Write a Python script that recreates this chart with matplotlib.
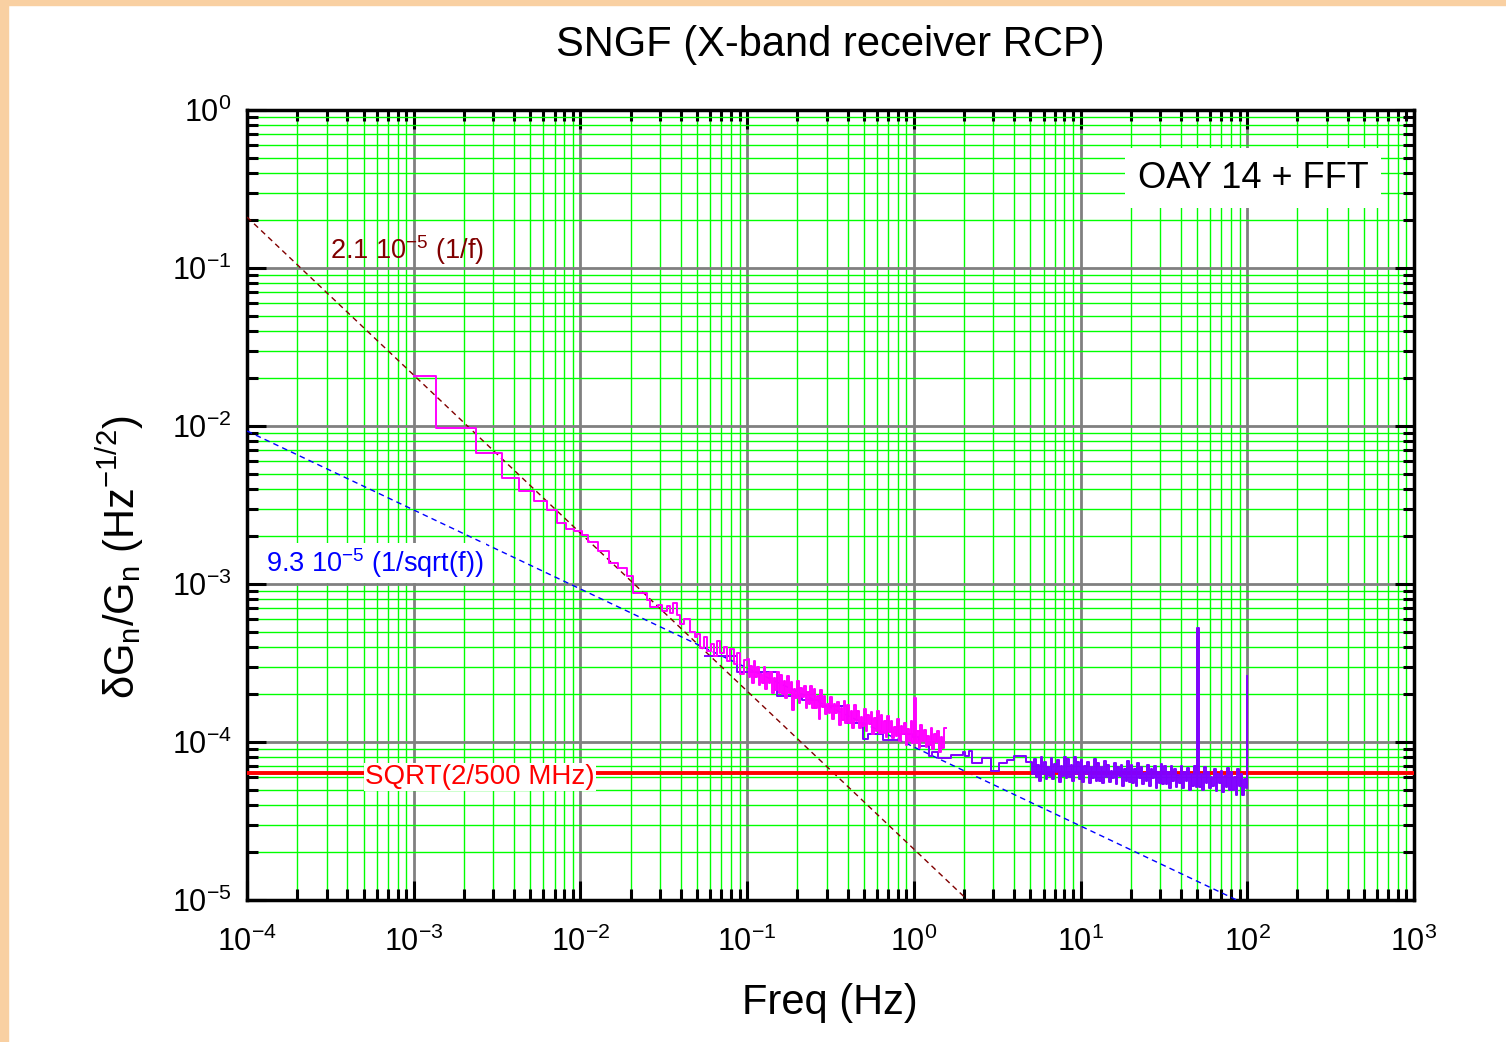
import numpy as np
import matplotlib
matplotlib.use("Agg")
import matplotlib.pyplot as plt
from matplotlib.ticker import LogLocator, LogFormatterSciNotation, NullFormatter
from matplotlib.patches import Rectangle

plt.rcParams['font.family'] = ['Liberation Sans', 'DejaVu Sans']
plt.rcParams['mathtext.fontset'] = 'custom'
plt.rcParams['mathtext.rm'] = 'Liberation Sans'
plt.rcParams['mathtext.it'] = 'Liberation Sans:italic'
plt.rcParams['mathtext.bf'] = 'Liberation Sans:bold'
plt.rcParams['mathtext.sf'] = 'Liberation Sans'

# ---------------- data ----------------
# OAY (magenta) spectrum: frequency (Hz) and value (x1e-6)
mag_freq = [1.00e-3, 1.36e-3, 2.37e-3, 3.37e-3, 4.27e-3, 5.27e-3, 6.30e-3, 7.20e-3, 8.20e-3, 9.10e-3,
            1.02e-2, 1.11e-2, 1.28e-2, 1.48e-2, 1.68e-2, 1.90e-2, 2.06e-2, 2.51e-2, 2.61e-2, 2.90e-2,
            3.09e-2, 3.30e-2, 3.45e-2, 3.60e-2, 3.80e-2, 3.94e-2, 4.20e-2, 4.56e-2, 4.89e-2,
            0.0501, 0.0525, 0.0550, 0.0575, 0.0603, 0.0631, 0.0661, 0.0692, 0.0724, 0.0759,
            0.0794, 0.0832, 0.0871, 0.0912, 0.0955,
            0.1000, 0.1023, 0.1047, 0.1072, 0.1096, 0.1122, 0.1148, 0.1175, 0.1202, 0.1230,
            0.1259, 0.1288, 0.1318, 0.1349, 0.1380, 0.1413, 0.1445, 0.1479, 0.1514, 0.1549,
            0.1585, 0.1622, 0.1660, 0.1698, 0.1738, 0.1778, 0.1820, 0.1862, 0.1905, 0.1950,
            0.1995, 0.2042, 0.2089, 0.2138, 0.2188, 0.2239, 0.2291, 0.2344, 0.2399, 0.2455,
            0.2512, 0.2570, 0.2630, 0.2692, 0.2754, 0.2818, 0.2884, 0.2951, 0.3020, 0.3090,
            0.3162, 0.3236, 0.3311, 0.3388, 0.3467, 0.3548, 0.3631, 0.3715, 0.3802, 0.3890,
            0.3981, 0.4074, 0.4169, 0.4266, 0.4365, 0.4467, 0.4571, 0.4677, 0.4786, 0.4898,
            0.5012, 0.5129, 0.5248, 0.5370, 0.5495, 0.5623, 0.5754, 0.5888, 0.6026, 0.6166,
            0.6310, 0.6457, 0.6607, 0.6761, 0.6918, 0.7079, 0.7244, 0.7413, 0.7586, 0.7762,
            0.7943, 0.8128, 0.8318, 0.8511, 0.8710, 0.8913, 0.9120, 0.9333, 0.9550, 0.9772,
            1.000, 1.023, 1.047, 1.072, 1.096, 1.122, 1.148, 1.175, 1.202, 1.230,
            1.259, 1.288, 1.318, 1.349, 1.380, 1.413, 1.445, 1.479, 1.514, 1.550]
mag_val = [20700, 9700, 6750, 4690, 3880, 3350, 2950, 2440, 2220, 2150,
           2040, 1850, 1620, 1360, 1260, 1120, 880, 790, 720, 740,
           670, 730, 660, 760, 640, 560, 600, 500, 460,
           486, 396, 462, 377, 420, 348, 437, 366, 398, 324,
           385, 313, 368, 270, 330,
           336, 256, 304, 238, 326, 256, 298, 230, 269, 236,
           300, 218, 273, 238, 279, 203, 253, 212, 278, 204,
           266, 202, 242, 189, 261, 205, 240, 160, 217, 190,
           242, 176, 221, 193, 226, 164, 206, 173, 227, 165,
           215, 165, 196, 140, 212, 166, 195, 151, 175, 153,
           194, 140, 175, 152, 179, 129, 163, 137, 181, 132,
           171, 131, 157, 123, 171, 135, 158, 123, 145, 127,
           162, 118, 149, 130, 154, 112, 141, 118, 156, 114,
           148, 114, 136, 107, 147, 116, 136, 106, 124, 109,
           139, 101, 127, 112, 132, 96, 121, 102, 135, 98,
           190, 99, 118, 92, 129, 101, 119, 93, 109, 96,
           123, 90, 113, 100, 118, 86, 108, 92, 122, 122]

# FFT (purple) spectrum: frequency (Hz) and value (x1e-6)
pur_freq = [0.0559, 0.0869, 0.151, 0.213, 0.274, 0.397, 0.496, 0.53, 0.654, 0.826,
            0.98, 1.08, 1.2, 1.23, 1.29, 1.4, 1.68, 1.97, 2.03, 2.15,
            2.23, 2.57, 2.91, 3.25, 3.6, 4.0, 4.7, 5.1,
            5.248, 5.370, 5.495, 5.623, 5.754, 5.888, 6.026, 6.166, 6.310, 6.457,
            6.607, 6.761, 6.918, 7.079, 7.244, 7.413, 7.586, 7.762, 7.943, 8.128,
            8.318, 8.511, 8.710, 8.913, 9.120, 9.333, 9.550, 9.772,
            10.00, 10.23, 10.47, 10.72, 10.96, 11.22, 11.48, 11.75, 12.02, 12.30,
            12.59, 12.88, 13.18, 13.49, 13.80, 14.13, 14.45, 14.79, 15.14, 15.49,
            15.85, 16.22, 16.60, 16.98, 17.38, 17.78, 18.20, 18.62, 19.05, 19.50,
            19.95, 20.42, 20.89, 21.38, 21.88, 22.39, 22.91, 23.44, 23.99, 24.55,
            25.12, 25.70, 26.30, 26.92, 27.54, 28.18, 28.84, 29.51, 30.20, 30.90,
            31.62, 32.36, 33.11, 33.88, 34.67, 35.48, 36.31, 37.15, 38.02, 38.90,
            39.81, 40.74, 41.69, 42.66, 43.65, 44.67, 45.71, 46.77, 47.86, 48.98,
            50.12, 51.29, 52.48, 53.70, 54.95, 56.23, 57.54, 58.88, 60.26, 61.66,
            63.10, 64.57, 66.07, 67.61, 69.18, 70.79, 72.44, 74.13, 75.86, 77.62,
            79.43, 81.28, 83.18, 85.11, 87.10, 89.13, 91.20, 93.33, 95.50, 97.72,
            100.0]
pur_val = [350, 277, 195, 184, 169, 132, 105, 113, 103, 113,
           107, 95, 94, 81, 87, 79, 83, 87, 81, 88,
           74, 79, 66, 74, 77, 81, 75, 63,
           78, 60, 72, 57, 80, 63, 75, 58, 69, 61,
           79, 58, 73, 65, 77, 56, 71, 61, 80, 59,
           78, 60, 72, 57, 80, 63, 75, 58,
           77, 56, 71, 63, 75, 55, 69, 59, 78, 57,
           74, 57, 69, 55, 76, 60, 72, 56, 66, 59,
           74, 54, 69, 61, 72, 53, 67, 57, 76, 56,
           72, 55, 67, 53, 74, 59, 69, 54, 64, 57,
           72, 53, 67, 59, 70, 51, 65, 55, 73, 54,
           70, 54, 65, 51, 71, 57, 67, 52, 62, 55,
           70, 51, 65, 57, 68, 50, 63, 53, 71, 52,
           527, 52, 63, 50, 69, 55, 65, 51, 60, 53,
           67, 49, 63, 55, 66, 48, 61, 52, 68, 50,
           65, 50, 60, 46, 67, 53, 63, 46, 58, 51,
           262]

# model lines
coef_1f = 2.1e-5
coef_sqrt = 9.3e-5
f_1f = [1e-4, 2.1]
f_sqrt = [1e-4, 86.5]
radiometer = np.sqrt(2 / 500e6)

# ---------------- figure ----------------
W, H = 1506, 1042
fig = plt.figure(figsize=(W / 100, H / 100), dpi=100)
fig.patch.set_facecolor('white')
peach = '#f9d0a2'
fig.patches.append(Rectangle((0, 0), 8 / W, 1, transform=fig.transFigure, color=peach, zorder=0))
fig.patches.append(Rectangle((0, 1 - 5 / H), 1, 5 / H, transform=fig.transFigure, color=peach, zorder=0))

ax = fig.add_axes([247 / W, 1 - 900 / H, (1414 - 247) / W, (900 - 110) / H])
ax.set_xscale('log')
ax.set_yscale('log')
ax.set_xlim(1e-4, 1e3)
ax.set_ylim(1e-5, 1e0)

for a in (ax.xaxis, ax.yaxis):
    a.set_major_locator(LogLocator(base=10, numticks=20))
    a.set_minor_locator(LogLocator(base=10, subs=np.arange(2, 10), numticks=200))
    a.set_minor_formatter(NullFormatter())
    a.set_major_formatter(LogFormatterSciNotation())

ax.grid(which='minor', color='#00ff00', lw=1.0, zorder=0)
ax.grid(which='major', color='#808080', lw=2.0, zorder=0)
ax.set_axisbelow(True)

ax.tick_params(which='both', direction='in', top=True, right=True, width=2.2, color='black')
ax.tick_params(which='major', length=14, labelsize=22)
ax.tick_params(axis='x', which='major', pad=19)
ax.tick_params(axis='y', which='major', pad=11)
ax.tick_params(which='minor', length=8)
for s in ax.spines.values():
    s.set_linewidth(2.5)
    s.set_color('black')

# model lines
f1 = np.array(f_1f)
ax.plot(f1, coef_1f / f1, color='#800000', lw=1.0, dashes=(4, 3), zorder=3)
f2 = np.array(f_sqrt)
ax.plot(f2, coef_sqrt / np.sqrt(f2), color='#0000ff', lw=1.0, dashes=(4, 3), zorder=3)
ax.axhline(radiometer, color='#ff0000', lw=2.8, zorder=3)

# data
ax.plot(pur_freq, np.array(pur_val) * 1e-6, color='#8000ff', lw=1.4, drawstyle='steps-post', zorder=4)
ax.plot(mag_freq, np.array(mag_val) * 1e-6, color='#ff00ff', lw=1.4, drawstyle='steps-post', zorder=5)

# annotations
ax.text((330 - 247) / 1167, (900 - 250) / 790, r'2.1 10$^{-5}$ (1/f)', transform=ax.transAxes,
        color='#800000', fontsize=19.5, ha='left', va='center', zorder=6)
ax.text((266 - 247) / 1167, (900 - 563) / 790, r'9.3 10$^{-5}$ (1/sqrt(f))', transform=ax.transAxes,
        color='#0000ff', fontsize=19.5, ha='left', va='center', zorder=6,
        bbox=dict(facecolor='white', edgecolor='none', pad=2))
ax.text((365 - 247) / 1167, (900 - 777) / 790, 'SQRT(2/500 MHz)', transform=ax.transAxes,
        color='#ff0000', fontsize=20, ha='left', va='center', zorder=6,
        bbox=dict(facecolor='white', edgecolor='none', pad=1))
ax.text((1253 - 247) / 1167, (900 - 178) / 790, 'OAY 14 + FFT', transform=ax.transAxes,
        color='black', fontsize=26, ha='center', va='center', zorder=6,
        bbox=dict(facecolor='white', edgecolor='none', pad=9))

fig.text(830 / W, 1 - 45 / H, 'SNGF (X-band receiver RCP)', ha='center', va='center', fontsize=30)
fig.text(830 / W, 1 - 1003 / H, 'Freq (Hz)', ha='center', va='center', fontsize=30)
fig.text(120 / W, 1 - 557 / H, r'$\mathrm{\delta G_n/G_n\ (Hz^{-1/2})}$', ha='center', va='center',
         rotation=90, fontsize=30)

fig.savefig('out.png', dpi=100, facecolor=fig.get_facecolor())
